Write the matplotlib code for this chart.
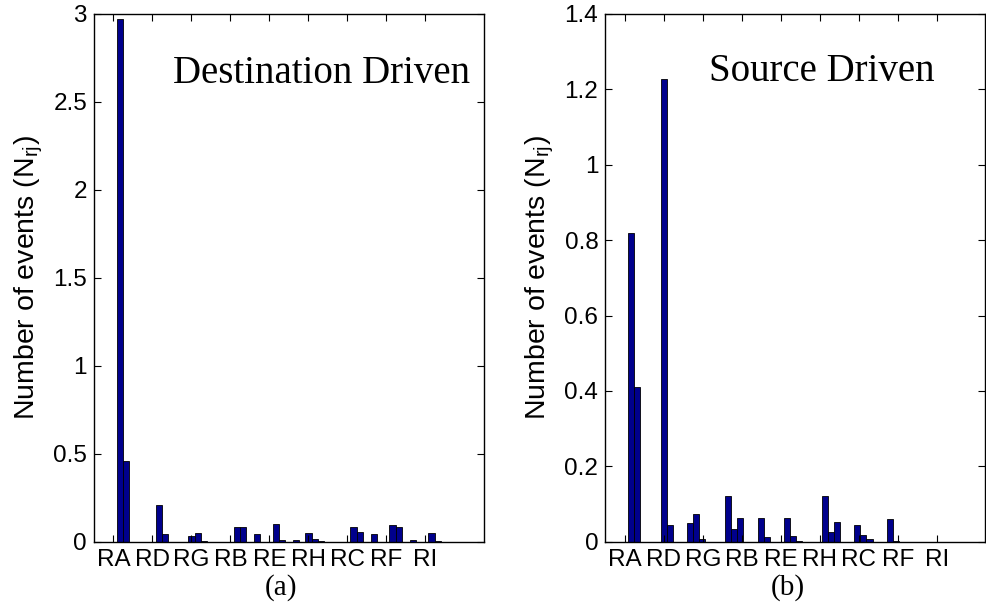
import numpy as np
import matplotlib
matplotlib.use("Agg")
import matplotlib.pyplot as plt

plt.rcParams['font.family'] = ['Liberation Sans', 'DejaVu Sans']
plt.rcParams['mathtext.fontset'] = 'custom'
plt.rcParams['mathtext.rm'] = 'Liberation Sans'
plt.rcParams['mathtext.it'] = 'Liberation Sans:italic'

# ---- data ----
labels = ['RA', 'RD', 'RG', 'RB', 'RE', 'RH', 'RC', 'RF', 'RI']

# Destination driven: 9 groups x 5 bars
dest_values = [
    [0.0,   0.0, 0.0,   2.97,  0.46],
    [0.0,   0.0, 0.0,   0.21,  0.042],
    [0.0,   0.0, 0.034, 0.051, 0.006],
    [0.0,   0.0, 0.0,   0.085, 0.085],
    [0.045, 0.0, 0.0,   0.102, 0.011],
    [0.007, 0.0, 0.05,  0.015, 0.003],
    [0.0,   0.0, 0.0,   0.085, 0.057],
    [0.045, 0.0, 0.0,   0.095, 0.085],
    [0.008, 0.0, 0.0,   0.051, 0.003],
]

# Source driven: 9 groups x 4 bars
src_values = [
    [0.0,   0.82,  0.41,  0.0],
    [0.0,   1.228, 0.044, 0.0],
    [0.049, 0.073, 0.007, 0.0],
    [0.0,   0.121, 0.034, 0.063],
    [0.0,   0.063, 0.012, 0.0],
    [0.063, 0.015, 0.003, 0.0],
    [0.0,   0.121, 0.025, 0.053],
    [0.0,   0.043, 0.019, 0.008],
    [0.0,   0.060, 0.003, 0.0],
]

dest_yticks = [0, 0.5, 1, 1.5, 2, 2.5, 3]
src_yticks = [0, 0.2, 0.4, 0.6, 0.8, 1, 1.2, 1.4]

BAR_FACE = '#00008C'
W, H = 987, 610

fig = plt.figure(figsize=(W / 100, H / 100), dpi=100)


def px_axes(left, right, top, bottom):
    return fig.add_axes([left / W, (H - bottom) / H, (right - left) / W, (bottom - top) / H])


def style(ax, yticks, ylim, xlim):
    ax.set_xlim(*xlim)
    ax.set_ylim(*ylim)
    ax.set_xticks(np.arange(1, len(labels) + 1))
    ax.set_xticklabels(labels)
    ax.set_yticks(yticks)
    ax.set_yticklabels([f'{t:g}' for t in yticks])
    ax.tick_params(direction='in', length=5, width=0.8, top=True, right=True,
                   labelsize=17.5, colors='black', pad=5)
    for s in ax.spines.values():
        s.set_linewidth(1.0)
        s.set_color('black')
    ax.set_ylabel(r'Number of events (N$_{\mathrm{rj}}$)', fontsize=20.5, labelpad=6)


# ---- panel (a) ----
axa = px_axes(94, 483.8, 14, 541.7)
vals = np.array(dest_values)
ng, nb = vals.shape
bw = 0.16
gx = np.arange(1, ng + 1)
for j in range(nb):
    axa.bar(gx + (j - (nb - 1) / 2) * bw, vals[:, j], width=bw, color=BAR_FACE,
            edgecolor='black', linewidth=0.6)
style(axa, dest_yticks, (0, 3), (0.5, 10.5))
axa.text(2.53, 2.608, 'Destination Driven', family='Liberation Serif', fontsize=28,
         ha='left', va='baseline')

# ---- panel (b) ----
axb = px_axes(605.3, 985, 14, 541.7)
vals = np.array(src_values)
ng, nb = vals.shape
bw = 0.155
gx = 1.246 + 0.828 * np.arange(ng)
for j in range(nb):
    axb.bar(gx + (j - (nb - 1) / 2) * bw, vals[:, j], width=bw, color=BAR_FACE,
            edgecolor='black', linewidth=0.6)
style(axb, src_yticks, (0, 1.4), (0.5, 0.5 + (985 - 605.3) / 39))
axb.text(3.16, 1.222, 'Source Driven', family='Liberation Serif', fontsize=28,
         ha='left', va='baseline')

fig.text(281 / W, 1 - 588 / H, '(a)', family='Liberation Serif', fontsize=21,
         ha='center', va='center')
fig.text(788 / W, 1 - 588 / H, '(b)', family='Liberation Serif', fontsize=21,
         ha='center', va='center')

fig.savefig('out.png', dpi=100)
